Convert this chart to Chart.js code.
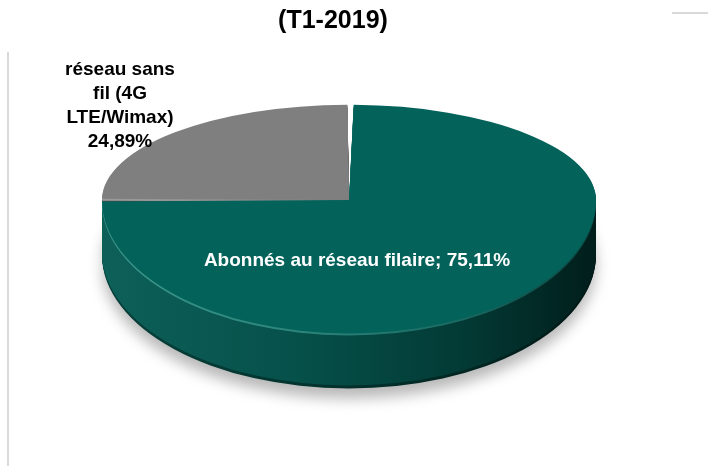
<!DOCTYPE html>
<html>
<head>
<meta charset="utf-8">
<script src="https://cdn.jsdelivr.net/npm/chart.js@4.4.1/dist/chart.umd.min.js"></script>
<style>
html,body{margin:0;padding:0;background:#fff;overflow:hidden}
#wrap{width:708px;height:466px;position:relative}
</style>
</head>
<body>
<div id="wrap"><canvas id="c" width="708" height="466"></canvas></div>
<script>
// ---- data ----
const chartTitle = '(T1-2019)';
const categories = ['Abonnés au réseau filaire', 'réseau sans fil (4G LTE/Wimax)'];
const shares = [75.11, 24.89];
const topColors = ['#03625a', '#7f7f7f'];

// ---- style / projection constants ----
const SHIFT_X = 16;       // horizontal offset of the tilted pie
const SY_BACK = 0.386;    // squash of the far half (perspective)
const SY_FRONT = 0.54;    // squash of the near half
const DEPTH = 55;         // thickness of the pie in px
const FONT = '"Liberation Sans", Arial, sans-serif';

function pct(v) { return v.toFixed(2).replace('.', ',') + '%'; }

function setHalf(ctx, chart, cx, cy, d, front, clipTop) {
  ctx.beginPath();
  if (front) ctx.rect(0, clipTop, chart.width, chart.height);
  else ctx.rect(0, 0, chart.width, cy + d);
  ctx.clip();
  ctx.translate(cx + SHIFT_X, cy + d);
  ctx.scale(1, front ? SY_FRONT : SY_BACK);
  ctx.translate(-cx, -cy);
}

function sideGradient(ctx, cx, R, i, d) {
  const g = ctx.createLinearGradient(cx - R, 0, cx + R, 0);
  let stops;
  if (i === 1) {
    stops = d <= 2 ? ['#9a9a9a', '#8a8a8a', '#6a6a6a', '#4a4a4a']
                   : ['#4a4a4a', '#3f3f3f', '#333333', '#262626'];
  } else if (d <= 2) {
    stops = ['#3b968c', '#2b857b', '#1a6a62', '#0b4540'];
  } else if (d >= DEPTH - 2) {
    stops = ['#06403a', '#03342f', '#022723', '#011715'];
  } else {
    stops = ['#0d6058', '#06504a', '#033b36', '#011e1b'];
  }
  g.addColorStop(0, stops[0]);
  g.addColorStop(0.4, stops[1]);
  g.addColorStop(0.72, stops[2]);
  g.addColorStop(1, stops[3]);
  return g;
}

function wrapLines(ctx, text, maxW) {
  const words = text.split(' ');
  const lines = [];
  let cur = '';
  words.forEach(w => {
    const t = cur ? cur + ' ' + w : w;
    if (cur && ctx.measureText(t).width > maxW) { lines.push(cur); cur = w; }
    else cur = t;
  });
  if (cur) lines.push(cur);
  return lines;
}

const framePlugin = {
  id: 'frame',
  beforeDraw(chart) {
    const ctx = chart.ctx;
    ctx.save();
    ctx.strokeStyle = '#d9d9d9';
    ctx.lineWidth = 2;
    ctx.beginPath();
    ctx.moveTo(8, 52); ctx.lineTo(8, 466);
    ctx.moveTo(672, 13); ctx.lineTo(708, 13);
    ctx.stroke();
    ctx.restore();
  }
};

const pie3dPlugin = {
  id: 'pie3d',
  beforeDatasetsDraw(chart) {
    const ctx = chart.ctx;
    const arcs = chart.getDatasetMeta(0).data;
    const cx = arcs[0].x, cy = arcs[0].y, R = arcs[0].outerRadius;
    for (let d = DEPTH; d >= 1; d--) {
      [false, true].forEach(front => {
        ctx.save();
        if (d === DEPTH && front) {
          ctx.shadowColor = 'rgba(0,0,0,0.28)';
          ctx.shadowBlur = 14;
          ctx.shadowOffsetX = 0;
          ctx.shadowOffsetY = 10;
        }
        setHalf(ctx, chart, cx, cy, d, front, d === DEPTH ? cy : cy + d);
        arcs.forEach((arc, i) => {
          const opts = Object.assign({}, arc.options, {
            backgroundColor: sideGradient(ctx, cx, R, i, d),
            borderWidth: 0
          });
          const fake = Object.create(arc, { options: { value: opts } });
          fake.draw(ctx);
        });
        ctx.restore();
      });
    }
    // the library's own dataset draw renders the near half of the top face
    ctx.save();
    setHalf(ctx, chart, cx, cy, 0, true, cy);
  },
  afterDatasetsDraw(chart) {
    const ctx = chart.ctx;
    ctx.restore();
    const arcs = chart.getDatasetMeta(0).data;
    const cx = arcs[0].x, cy = arcs[0].y;
    // far half of the top face
    ctx.save();
    setHalf(ctx, chart, cx, cy, 0, false, 0);
    arcs.forEach(arc => arc.draw(ctx));
    ctx.restore();

    const X = cx + SHIFT_X, Y = cy;
    ctx.save();
    ctx.font = 'bold 19px ' + FONT;
    ctx.textAlign = 'center';
    ctx.textBaseline = 'alphabetic';
    ctx.fillStyle = '#ffffff';
    ctx.fillText(categories[0] + '; ' + pct(shares[0]), X + 8, Y + 66);
    ctx.fillStyle = '#000000';
    const lines = wrapLines(ctx, categories[1], 120);
    lines.push(pct(shares[1]));
    lines.forEach((l, i) => ctx.fillText(l, X - 229, Y - 125 + i * 24));
    ctx.restore();
  }
};

new Chart(document.getElementById('c'), {
  type: 'pie',
  data: {
    labels: categories,
    datasets: [{
      data: shares,
      backgroundColor: topColors,
      borderWidth: 0,
      spacing: 2,
      clip: false
    }]
  },
  options: {
    responsive: false,
    animation: false,
    events: [],
    radius: 246,
    layout: { padding: { left: 0, right: 42, top: 0, bottom: 102 } },
    plugins: {
      legend: { display: false },
      tooltip: { enabled: false },
      title: {
        display: true,
        text: chartTitle,
        color: '#000000',
        font: { family: FONT, size: 25, weight: 'bold', lineHeight: '30px' },
        padding: { top: 6, bottom: 0 }
      }
    }
  },
  plugins: [framePlugin, pie3dPlugin]
});
</script>
</body>
</html>
